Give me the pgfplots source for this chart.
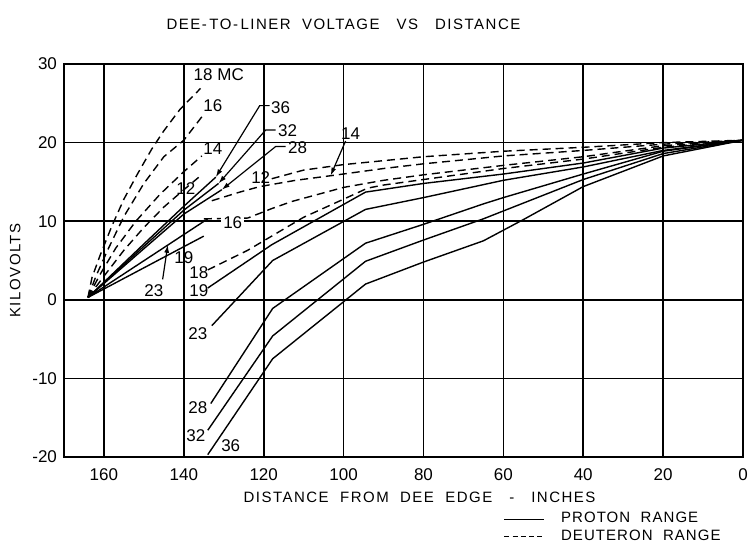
\documentclass[border=0pt]{standalone}
\usepackage{fontspec}
\setmainfont{Liberation Sans}
\newfontfamily\lettering[LetterSpace=10]{Liberation Sans}
\newfontfamily\legendfont[LetterSpace=7]{Liberation Sans}
\usepackage{pgfplots}
\pgfplotsset{compat=1.18}
\usetikzlibrary{arrows.meta,calc}

\begin{document}
\begin{tikzpicture}[font=\fontsize{8.5}{9}\selectfont]
\begin{axis}[name=ax, scale only axis, width=339.5pt, height=196.5pt,
  x dir=reverse, xmin=0, xmax=170, ymin=-20, ymax=30,
  xtick={0,20,...,160}, ytick={-20,-10,...,30},
  grid=major, major grid style={black, line width=0.8pt},
  axis line style={line width=1pt}, major tick length=0pt,
  /pgf/number format/assume math mode=true,
  ticklabel style={font=\fontsize{8.5}{9}\selectfont},
  xticklabel style={yshift=-2.5pt},
  xlabel={DISTANCE\ \ FROM\ \ DEE\ \ EDGE\ \ \ -\ \ \ INCHES}, ylabel={KILOVOLTS},
  label style={font=\lettering\fontsize{7.5}{8}\selectfont},
  xlabel style={yshift=1.5pt, xshift=8pt}, ylabel style={yshift=-1pt, xshift=-5pt},
  legend style={at={(0.647,-0.13)}, anchor=north west, draw=none, fill=none,
    inner sep=0pt, row sep=-2pt, font=\legendfont\fontsize{7.5}{8}\selectfont,
    cells={anchor=west}, nodes={inner xsep=8pt}},
  legend image code/.code={\draw[#1] (0pt,0pt) -- (20pt,0pt);},
  every axis plot/.append style={black, line width=0.7pt},
  clip=true]

% deuteron, steep part
\addplot[forget plot, dash pattern=on 4pt off 2.5pt] coordinates {(164,0.3) (163,2.8) (161,5.6) (158,9.4) (155,12.8) (151.5,16.1) (148,19.2) (145,21.5) (141,24.2) (135.8,26.9)};
\addplot[forget plot, dash pattern=on 4pt off 2.5pt] coordinates {(164,0.3) (162,3.0) (159,6.4) (155,10.6) (150,14.8) (145,18.2) (140,20.3) (135,23.6)};
\addplot[forget plot, dash pattern=on 4pt off 2.5pt] coordinates {(164,0.3) (161,3.2) (157,6.6) (152,10.0) (146,13.4) (140,16.3) (135.5,18.3)};
\addplot[forget plot, dash pattern=on 4pt off 2.5pt] coordinates {(164,0.3) (160,3.0) (155,6.3) (150,9.2) (145,11.8) (140,14.0) (136,15.7)};
% proton, steep part
\addplot[forget plot] coordinates {(164,0.3) (150,7.1) (140,11.9) (132,15.6)};
\addplot[forget plot] coordinates {(164,0.3) (150,6.8) (140,11.4) (131.3,14.8)};
\addplot[forget plot] coordinates {(164,0.3) (150,6.5) (140,10.9) (130.5,14.0)};
\addplot[forget plot] coordinates {(164,0.3) (134,10.3)};
\addplot[forget plot] coordinates {(164,0.3) (135,8.1)};
% deuteron, outer part
\addplot[forget plot, dash pattern=on 4pt off 2.5pt] coordinates {(118,15.4) (110,16.5) (100,17.2) (90,17.7) (80,18.2) (60,18.9) (40,19.4) (20,20.0) (0,20.3)};
\addplot[forget plot, dash pattern=on 4pt off 2.5pt] coordinates {(133,12.6) (126,13.7) (121,14.4) (112,15.2) (103,15.8) (90,16.7) (80,17.3) (60,18.3) (40,19.0) (20,19.8) (0,20.3)};
\addplot[forget plot, dash pattern=on 4pt off 2.5pt] coordinates {(135,10.3) (124,10.4) (118,11.6) (113,12.5) (100,14.3) (90,15.2) (80,15.9) (60,17.1) (40,18.2) (20,19.6) (0,20.3)};
\addplot[forget plot, dash pattern=on 4pt off 2.5pt] coordinates {(134,3.8) (124,6.3) (118,8.1) (110,10.5) (100,12.8) (94,14.2) (90,14.6) (80,15.3) (60,16.7) (40,17.9) (20,19.4) (0,20.3)};
% proton, outer part
\addplot[forget plot] coordinates {(134,1.5) (118,7.0) (94.5,13.7) (80,14.8) (60,16.0) (40,17.4) (20,19.3) (0,20.3)};
\addplot[forget plot] coordinates {(133,-3.3) (117.75,5.0) (94.5,11.5) (80,13.0) (60,15.2) (40,16.9) (20,19.0) (0,20.3)};
\addplot[forget plot] coordinates {(133.25,-13.2) (117.75,-1.1) (94.5,7.2) (80,9.6) (65,12.2) (60,13.0) (40,16.0) (20,18.9) (0,20.3)};
\addplot[forget plot] coordinates {(134,-16.6) (117.75,-4.6) (94.5,4.9) (80,7.6) (65,10.3) (40,15.3) (20,18.6) (0,20.3)};
\addplot[forget plot] coordinates {(134,-19.7) (117.75,-7.5) (94.5,2.0) (80,4.8) (65,7.5) (55,10.2) (40,14.4) (20,18.3) (0,20.3)};

\addlegendimage{black, line width=0.7pt}
\addlegendentry{PROTON\ \ RANGE}
\addlegendimage{black, line width=0.7pt, dash pattern=on 2.5pt off 1.6pt}
\addlegendentry{DEUTERON\ \ RANGE}

% curve labels
\node at (axis cs:131.25,28.7) {18 MC};
\node at (axis cs:132.75,24.7) {16};
\node at (axis cs:132.75,19.2) {14};
\node at (axis cs:139.5,14.2) {12};
\node at (axis cs:115.75,24.5) {36};
\node at (axis cs:114,21.5) {32};
\node at (axis cs:111.5,19.3) {28};
\node at (axis cs:120.75,15.5) {12};
\node at (axis cs:98.25,21.1) {14};
\node[fill=white, inner sep=1pt] at (axis cs:127.75,9.8) {16};
\node at (axis cs:140,5.3) {19};
\node at (axis cs:147.5,1.1) {23};
\node at (axis cs:136.25,3.4) {18};
\node at (axis cs:136.25,1.1) {19};
\node at (axis cs:136.5,-4.3) {23};
\node at (axis cs:136.5,-13.7) {28};
\node at (axis cs:137,-17.3) {32};
\node at (axis cs:128.25,-18.6) {36};
% leaders
\draw[line width=0.6pt, -{Latex[length=4pt,width=2.5pt]}] (axis cs:118.5,24.7) -- (axis cs:121,24.7) -- (axis cs:132,15.6);
\draw[line width=0.6pt, -{Latex[length=4pt,width=2.5pt]}] (axis cs:117,21.6) -- (axis cs:119.5,21.6) -- (axis cs:131.3,14.8);
\draw[line width=0.6pt, -{Latex[length=4pt,width=2.5pt]}] (axis cs:114.5,19.5) -- (axis cs:117,19.5) -- (axis cs:130.5,14.0);
\draw[line width=0.6pt, -{Latex[length=4pt,width=2.5pt]}] (axis cs:99.5,20.2) -- (axis cs:103.25,15.8);
\draw[line width=0.6pt, -{Latex[length=4pt,width=2.5pt]}] (axis cs:145.3,2.6) -- (axis cs:144,7.0);
\end{axis}
\node[font=\lettering\fontsize{7.5}{8}\selectfont] at ($(ax.north)+(-30pt,20pt)$) {DEE-\,TO-\,LINER\ \ VOLTAGE\ \ \ VS\ \ \ DISTANCE};
\pgfresetboundingbox
\path ($(ax.south west)+(-32pt,-45pt)$) rectangle ($(ax.north east)+(2.5pt,32pt)$);
\end{tikzpicture}
\end{document}
